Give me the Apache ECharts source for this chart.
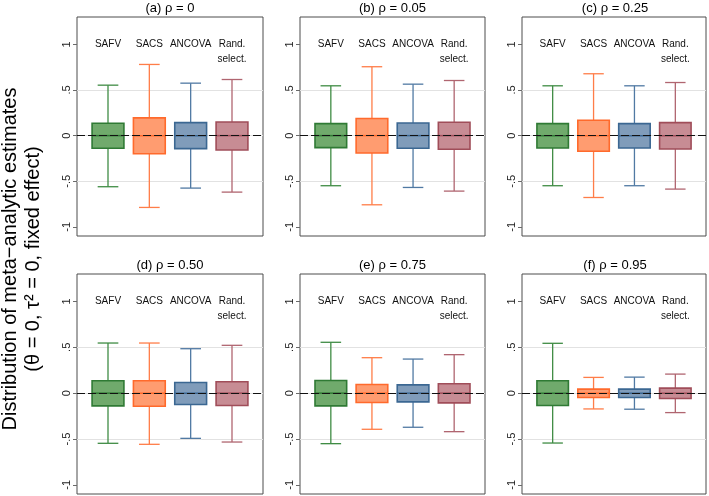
<!DOCTYPE html>
<html><head><meta charset="utf-8">
<script src="https://cdn.jsdelivr.net/npm/echarts@6/dist/echarts.min.js"></script>
<style>html,body{margin:0;padding:0;background:#fff}#c{width:709px;height:496px}</style>
</head><body><div id="c"></div>
<script>
// ---- data ----
const categories = ['SAFV', 'SACS', 'ANCOVA', 'Rand.\nselect.'];
const panelTitles = ['(a) ρ = 0', '(b) ρ = 0.05', '(c) ρ = 0.25', '(d) ρ = 0.50', '(e) ρ = 0.75', '(f) ρ = 0.95'];
const yTicks = [-1, -0.5, 0, 0.5, 1];
const yTickLabels = ['-1', '-.5', '0', '.5', '1'];
const yTitle = 'Distribution of meta\u2212analytic estimates\n(\u03b8 = 0, \u03c4\u00b2 = 0, fixed effect)';
// each row: [lower whisker, Q1, median, Q3, upper whisker]
const panelA = [[-0.560, -0.139, 0, 0.136, 0.553], [-0.787, -0.198, 0, 0.194, 0.780], [-0.575, -0.143, 0, 0.143, 0.575], [-0.619, -0.157, 0, 0.150, 0.615]];
const panelB = [[-0.549, -0.132, 0, 0.132, 0.546], [-0.758, -0.190, 0, 0.187, 0.755], [-0.568, -0.139, 0, 0.139, 0.564], [-0.608, -0.150, 0, 0.146, 0.604]];
const panelC = [[-0.549, -0.135, 0, 0.132, 0.546], [-0.678, -0.172, 0, 0.168, 0.678], [-0.549, -0.135, 0, 0.132, 0.546], [-0.586, -0.146, 0, 0.143, 0.582]];
const panelD = [[-0.547, -0.139, 0, 0.135, 0.547], [-0.558, -0.142, 0, 0.135, 0.547], [-0.493, -0.124, 0, 0.117, 0.485], [-0.533, -0.135, 0, 0.124, 0.522]];
const panelE = [[-0.551, -0.139, 0, 0.139, 0.555], [-0.394, -0.102, 0, 0.095, 0.387], [-0.372, -0.095, 0, 0.091, 0.372], [-0.420, -0.106, 0, 0.102, 0.420]];
const panelF = [[-0.544, -0.135, 0, 0.135, 0.544], [-0.172, -0.047, 0, 0.044, 0.172], [-0.175, -0.047, 0, 0.044, 0.175], [-0.212, -0.058, 0, 0.055, 0.208]];
const panels = [panelA, panelB, panelC, panelD, panelE, panelF];

// ---- styles ----
const boxColors = [
  {fill: '#70aa6c', stroke: '#2f7a34', whisker: '#3f8c44'},
  {fill: '#ff9c70', stroke: '#ff6a2c', whisker: '#ff7d48'},
  {fill: '#809cba', stroke: '#3b6792', whisker: '#5079a3'},
  {fill: '#c78c94', stroke: '#a04d59', whisker: '#b06570'}
];
const gridPos = [
  {left: 77, top: 17, width: 186, height: 219},
  {left: 300, top: 17, width: 185, height: 219},
  {left: 522, top: 17, width: 186, height: 219},
  {left: 77, top: 274, width: 186, height: 220},
  {left: 300, top: 274, width: 185, height: 220},
  {left: 522, top: 274, width: 186, height: 220}
];
const FONT = '"Liberation Sans", Arial, Helvetica, sans-serif';

function renderBox(params, api) {
  const x = api.value(0);
  const lo = api.coord([x, api.value(1)]);
  const q1 = api.coord([x, api.value(2)]);
  const md = api.coord([x, api.value(3)]);
  const q3 = api.coord([x, api.value(4)]);
  const hi = api.coord([x, api.value(5)]);
  const band = api.size([1, 0])[0];
  const bw = band * 0.77, cw = band * 0.5;
  const c = boxColors[params.dataIndex % 4];
  const cx = lo[0];
  const wl = {stroke: c.whisker, lineWidth: 1.3};
  return {
    type: 'group',
    children: [
      {type: 'line', shape: {x1: cx, y1: hi[1], x2: cx, y2: q3[1]}, style: wl},
      {type: 'line', shape: {x1: cx, y1: q1[1], x2: cx, y2: lo[1]}, style: wl},
      {type: 'line', shape: {x1: cx - cw / 2, y1: hi[1], x2: cx + cw / 2, y2: hi[1]}, style: wl},
      {type: 'line', shape: {x1: cx - cw / 2, y1: lo[1], x2: cx + cw / 2, y2: lo[1]}, style: wl},
      {type: 'rect', shape: {x: cx - bw / 2, y: q3[1], width: bw, height: q1[1] - q3[1]},
        style: {fill: c.fill, stroke: c.stroke, lineWidth: 1.6}},
      {type: 'line', shape: {x1: cx - bw / 2, y1: md[1], x2: cx + bw / 2, y2: md[1]},
        style: {stroke: c.stroke, lineWidth: 1.5}}
    ]
  };
}

const grids = [], xAxes = [], yAxes = [], series = [], graphics = [];
panels.forEach((p, i) => {
  const g = gridPos[i];
  grids.push(Object.assign({show: true, borderColor: '#4d4d4d', borderWidth: 1, backgroundColor: '#fff', containLabel: false}, g));
  xAxes.push({
    gridIndex: i, type: 'value', position: 'top', min: 0.25, max: 4.75, interval: 0.25,
    axisLine: {show: false}, axisTick: {show: false}, splitLine: {show: false},
    axisLabel: {
      inside: true, margin: 20, fontSize: 10, lineHeight: 15, color: '#111', fontFamily: FONT,
      showMinLabel: true, showMaxLabel: true,
      formatter: v => {
        const r = Math.round(v);
        return (Math.abs(v - r) < 1e-6 && r >= 1 && r <= categories.length) ? categories[r - 1] : '';
      }
    }
  });
  yAxes.push({
    gridIndex: i, type: 'value', min: -1.1, max: 1.3,
    axisLine: {show: false},
    axisTick: {show: true, length: 4, lineStyle: {color: '#6a6a6a'}, customValues: yTicks},
    axisLabel: {
      rotate: 90, margin: 5, fontSize: 11, color: '#222', fontFamily: FONT, customValues: yTicks,
      formatter: v => {
        const k = yTicks.findIndex(t => Math.abs(t - v) < 1e-6);
        return k >= 0 ? yTickLabels[k] : '';
      }
    },
    splitLine: {show: true, showMinLine: false, showMaxLine: false, lineStyle: {color: '#e2e2e2', width: 1}}
  });
  series.push({
    type: 'line', xAxisIndex: i, yAxisIndex: i, data: [], z: 1, silent: true,
    markLine: {
      silent: true, symbol: 'none', label: {show: false},
      lineStyle: {color: '#111', type: [8, 3], width: 1.1},
      data: [{yAxis: 0}]
    }
  });
  series.push({
    type: 'custom', xAxisIndex: i, yAxisIndex: i, z: 3, silent: true,
    renderItem: renderBox,
    encode: {x: 0, y: [1, 2, 3, 4, 5]},
    data: p.map((row, k) => [k + 1].concat(row))
  });
  graphics.push({
    type: 'text', x: g.left + g.width / 2, y: g.top - 9,
    style: {text: panelTitles[i], font: '13px ' + FONT, fill: '#000',
      align: 'center', verticalAlign: 'middle', textAlign: 'center', textVerticalAlign: 'middle'}
  });
});
graphics.push({
  type: 'text', x: 21.5, y: 259, rotation: Math.PI / 2,
  style: {text: yTitle, font: '20px ' + FONT, fill: '#000', lineHeight: 23,
    align: 'center', verticalAlign: 'middle', textAlign: 'center', textVerticalAlign: 'middle'}
});

const chart = echarts.init(document.getElementById('c'), null, {renderer: 'canvas'});
chart.setOption({
  animation: false,
  backgroundColor: '#fff',
  grid: grids, xAxis: xAxes, yAxis: yAxes, series: series, graphic: graphics
});
</script></body></html>
